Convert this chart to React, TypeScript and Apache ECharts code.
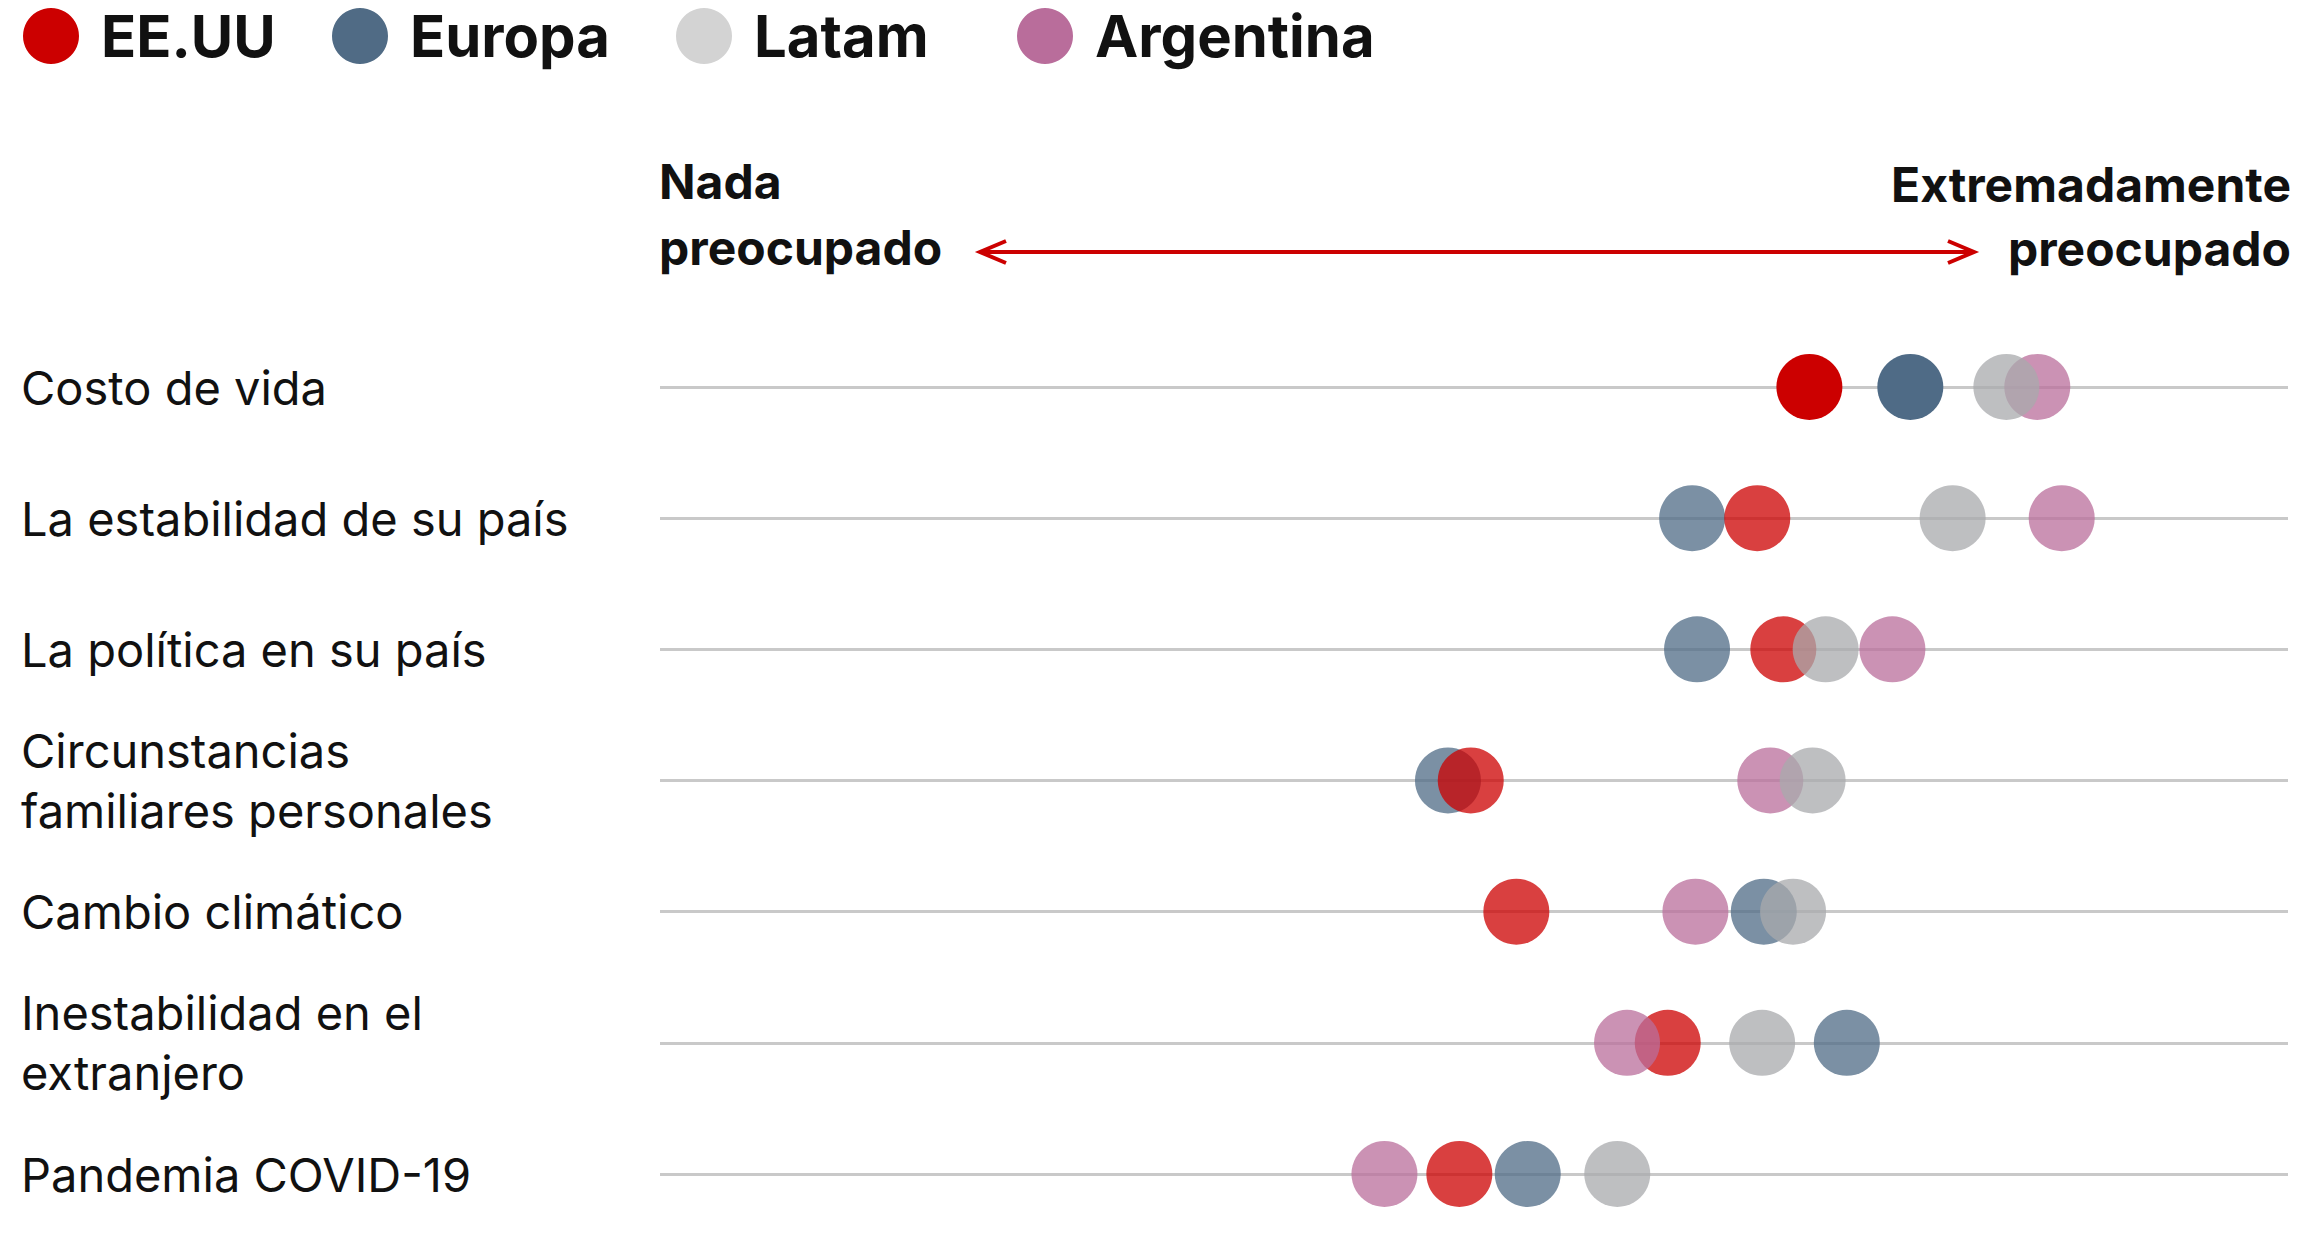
import React, { useEffect, useRef } from "react";
import * as echarts from "echarts";

const categories = [
  "Costo de vida",
  "La estabilidad de su país",
  "La política en su país",
  "Circunstancias\nfamiliares personales",
  "Cambio climático",
  "Inestabilidad en el\nextranjero",
  "Pandemia COVID-19",
];

// position on the "Nada preocupado" (0) → "Extremadamente preocupado" (100) line
const eeuu = [70.6, 67.4, 69.0, 49.8, 52.6, 61.9, 49.1];
const europa = [76.8, 63.4, 63.7, 48.4, 67.8, 72.9, 53.3];
const latam = [82.7, 79.4, 71.6, 70.8, 69.6, 67.7, 58.8];
const argentina = [84.6, 86.1, 75.7, 68.2, 63.6, 59.4, 44.5];

const seriesNames = ["EE.UU", "Europa", "Latam", "Argentina"];
const leftLabel = ["Nada", "preocupado"];
const rightLabel = ["Extremadamente", "preocupado"];

const FONT = "Inter, 'Noto Sans', sans-serif";

export default function App() {
  const ref = useRef<HTMLDivElement>(null);

  useEffect(() => {
    if (!ref.current) return;
    const chart = echarts.init(ref.current, undefined, { renderer: "svg" });

    const chartColors: Record<string, string> = {
      "EE.UU": "#cc0000",
      Europa: "#4f6b86",
      Latam: "#a8a9ac",
      Argentina: "#b96d9b",
    };
    const legendColors: Record<string, string> = {
      "EE.UU": "#cc0000",
      Europa: "#506b85",
      Latam: "#d3d3d3",
      Argentina: "#b96d9b",
    };
    const values: Record<string, number[]> = {
      "EE.UU": eeuu,
      Europa: europa,
      Latam: latam,
      Argentina: argentina,
    };

    const makeSeries = (name: string) => ({
      name,
      type: "scatter",
      symbol: "circle",
      symbolSize: 66,
      clip: false,
      itemStyle: { color: chartColors[name], opacity: 0.75 },
      emphasis: { disabled: true },
      data: values[name].map((v, i) => {
        const solid = i === 0 && (name === "EE.UU" || name === "Europa");
        return solid
          ? { value: [v, categories[i]], itemStyle: { opacity: 1 } }
          : { value: [v, categories[i]] };
      }),
    });

    const legendLefts = [23, 332, 676, 1017];
    const legends = seriesNames.map((name, i) => ({
      show: true,
      left: legendLefts[i],
      top: 7,
      orient: "horizontal",
      selectedMode: false,
      icon: "circle",
      itemWidth: 56,
      itemHeight: 56,
      padding: 0,
      data: [{ name, itemStyle: { color: legendColors[name], opacity: 1 } }],
      textStyle: {
        fontFamily: FONT,
        fontWeight: "bold",
        fontSize: 58,
        lineHeight: 56,
        color: "#111",
        padding: [0, 0, 0, 17],
      },
    }));

    const headerText = (text: string, x: number, y: number, align: string) => ({
      type: "text",
      x,
      y,
      silent: true,
      style: {
        text,
        fill: "#111",
        fontFamily: FONT,
        fontWeight: "bold",
        fontSize: 48,
        align,
        textAlign: align,
        verticalAlign: "middle",
        textVerticalAlign: "middle",
      },
    });

    const red = "#cc0000";
    const arrowY = 252;
    const arrowL = 980;
    const arrowR = 1974;

    chart.setOption({
      animation: false,
      backgroundColor: "#ffffff",
      legend: legends,
      grid: { left: 660, right: 12, top: 387, height: 787, containLabel: false },
      xAxis: {
        type: "value",
        min: 0,
        max: 100,
        show: false,
      },
      yAxis: {
        type: "category",
        data: categories,
        inverse: true,
        boundaryGap: false,
        axisLine: { show: false },
        axisTick: { show: false },
        splitLine: {
          show: true,
          interval: 0,
          lineStyle: { color: "#c9c9c9", width: 3 },
        },
        axisLabel: {
          interval: 0,
          margin: 639,
          align: "left",
          verticalAlign: "middle",
          fontFamily: FONT,
          fontSize: 47,
          lineHeight: 60,
          color: "#111",
        },
      },
      graphic: [
        headerText(leftLabel[0], 659, 181, "left"),
        headerText(leftLabel[1], 659, 247, "left"),
        headerText(rightLabel[0], 2291, 184, "right"),
        headerText(rightLabel[1], 2291, 248, "right"),
        {
          type: "line",
          silent: true,
          shape: { x1: arrowL + 1, y1: arrowY, x2: arrowR - 1, y2: arrowY },
          style: { stroke: red, lineWidth: 4 },
        },
        {
          type: "polyline",
          silent: true,
          shape: {
            points: [
              [arrowL + 26, arrowY - 11],
              [arrowL, arrowY],
              [arrowL + 26, arrowY + 11],
            ],
          },
          style: { stroke: red, lineWidth: 4, fill: null, lineJoin: "miter" },
        },
        {
          type: "polyline",
          silent: true,
          shape: {
            points: [
              [arrowR - 26, arrowY - 11],
              [arrowR, arrowY],
              [arrowR - 26, arrowY + 11],
            ],
          },
          style: { stroke: red, lineWidth: 4, fill: null, lineJoin: "miter" },
        },
      ],
      series: ["Europa", "EE.UU", "Argentina", "Latam"].map(makeSeries),
    });

    return () => chart.dispose();
  }, []);

  return (
    <div
      ref={ref}
      style={{
        position: "fixed",
        left: 0,
        top: 0,
        width: 2300,
        height: 1256,
        background: "#fff",
      }}
    />
  );
}
